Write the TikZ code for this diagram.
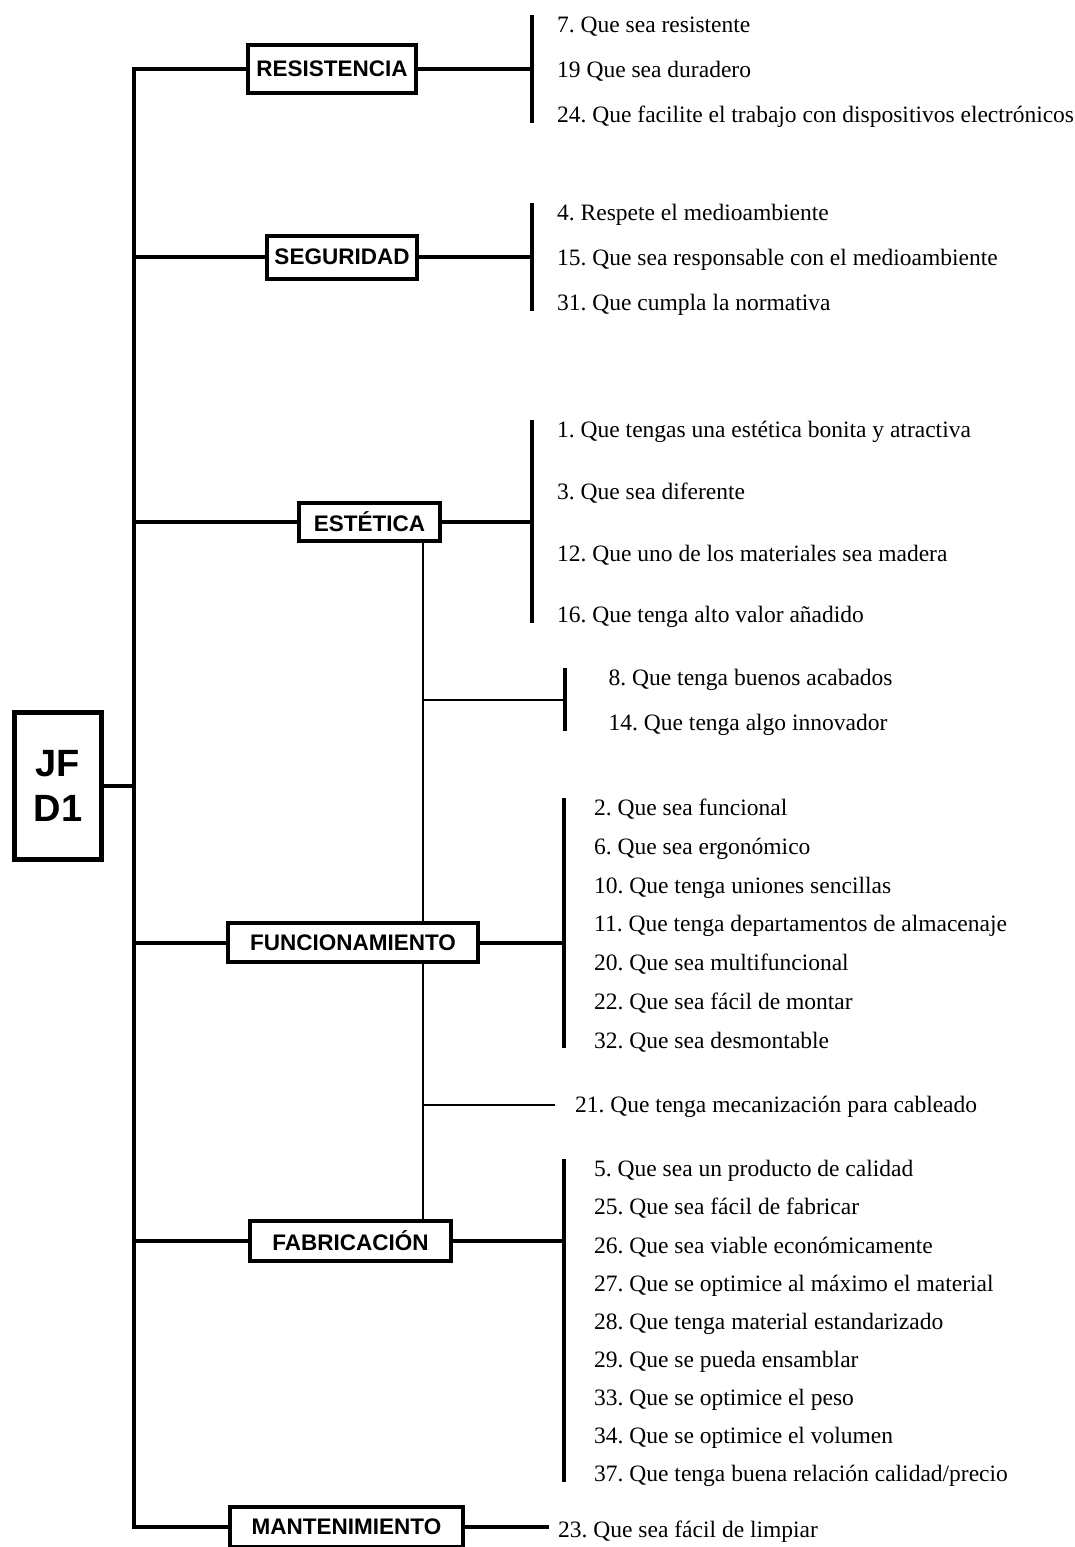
\documentclass[tikz,border=0pt]{standalone}
\usepackage{fontspec}
\setmainfont{Liberation Serif}
\setsansfont{Liberation Sans}
\usetikzlibrary{calc}
\frenchspacing
\tikzstyle{catbox} =[
    draw=black,
    fill=white,
    line width=4pt,
    rectangle,
    inner sep=0pt,
    font=\sffamily\bfseries\fontsize{22.5}{22.5}\selectfont
    ]
\tikzstyle{rootbox} = [
    draw=black,
    line width=5pt,
    rectangle,
    align=center,
    inner sep=0pt,
    minimum width=87pt,
    minimum height=147pt,
    font=\sffamily\bfseries\fontsize{38}{45}\selectfont
    ]
\tikzstyle{reqtext} = [
    anchor=west,
    inner sep=0pt,
    text height=15.6pt,
    text depth=0pt,
    font=\fontsize{23.5}{23.5}\selectfont
    ]
\tikzstyle{link} = [line width=4pt]
\tikzstyle{sublink} = [line width=2pt]

\begin{document}
\begin{tikzpicture}[x=1pt,y=-1pt]
\useasboundingbox (0,0) rectangle (1075,1547);

% root and categories
\node[rootbox] (jf) at (58,786) {JF\\D1};
\node[catbox, minimum width=168pt, minimum height=48pt] (res) at (332,69) {RESISTENCIA};
\node[catbox, minimum width=150pt, minimum height=43pt] (seg) at (342,257) {SEGURIDAD};
\node[catbox, minimum width=141pt, minimum height=38pt] (est) at (369.5,522) {ESTÉTICA};
\node[catbox, minimum width=250pt, minimum height=39pt] (fun) at (353,942.5) {FUNCIONAMIENTO};
\node[catbox, minimum width=201pt, minimum height=40pt] (fab) at (350.5,1241) {FABRICACIÓN};
\node[catbox, minimum width=233pt, minimum height=40pt] (mant) at (346.5,1527) {MANTENIMIENTO};

% requirements
\foreach \t [count=\i] in {7. Que sea resistente, 19 Que sea duradero,
    24. Que facilite el trabajo con dispositivos electrónicos}
  \node[reqtext] (res\i) at (557,{25+45*(\i-1)}) {\t};
\foreach \t [count=\i] in {4. Respete el medioambiente,
    15. Que sea responsable con el medioambiente, 31. Que cumpla la normativa}
  \node[reqtext] (seg\i) at (557,{213+45*(\i-1)}) {\t};
\foreach \t [count=\i] in {1. Que tengas una estética bonita y atractiva,
    3. Que sea diferente, 12. Que uno de los materiales sea madera,
    16. Que tenga alto valor añadido}
  \node[reqtext] (est\i) at (557,{430+61.7*(\i-1)}) {\t};
\foreach \t [count=\i] in {8. Que tenga buenos acabados, 14. Que tenga algo innovador}
  \node[reqtext] (aca\i) at (608.5,{677.5+45*(\i-1)}) {\t};
\foreach \t [count=\i] in {2. Que sea funcional, 6. Que sea ergonómico,
    10. Que tenga uniones sencillas, 11. Que tenga departamentos de almacenaje,
    20. Que sea multifuncional, 22. Que sea fácil de montar, 32. Que sea desmontable}
  \node[reqtext] (fun\i) at (594,{808+38.7*(\i-1)}) {\t};
\node[reqtext] (cab) at (575,1105) {21. Que tenga mecanización para cableado};
\foreach \t [count=\i] in {5. Que sea un producto de calidad, 25. Que sea fácil de fabricar,
    26. Que sea viable económicamente, 27. Que se optimice al máximo el material,
    28. Que tenga material estandarizado, 29. Que se pueda ensamblar,
    33. Que se optimice el peso, 34. Que se optimice el volumen,
    37. Que tenga buena relación calidad/precio}
  \node[reqtext] (fab\i) at (594,{1169+38.1*(\i-1)}) {\t};
\node[reqtext] (limp) at (558,1530) {23. Que sea fácil de limpiar};

% spines
\coordinate (spine) at (134,0);
\coordinate (sub) at (423,0);
\coordinate (resbar) at ([xshift=-25pt]res1.west);
\coordinate (segbar) at ([xshift=-25pt]seg1.west);
\coordinate (estbar) at ([xshift=-25pt]est1.west);
\coordinate (acabar) at ($(aca1.west)!0.5!(aca2.west)+(-44,0)$);
\coordinate (funbar) at ([xshift=-30pt]fun1.west);
\coordinate (fabbar) at ([xshift=-30pt]fab1.west);

\draw[link] (res.west) -- (res.west -| spine) -- (mant.west -| spine) -- (mant.west);
\foreach \n in {seg,est,fun,fab}
  \draw[link] (\n.west) -- (\n.west -| spine);
\draw[link] (jf.east) -- (jf.east -| spine);

% brackets
\draw[link, shorten <=-2pt] (resbar |- res1.north) -- (resbar |- res3.south);
\draw[link] (res.east) -- (res.east -| resbar);
\draw[link, shorten <=-2pt] (segbar |- seg1.north) -- (segbar |- seg3.south);
\draw[link] (seg.east) -- (seg.east -| segbar);
\draw[link, shorten <=-2pt] (estbar |- est1.north) -- (estbar |- est4.south);
\draw[link] (est.east) -- (est.east -| estbar);
\draw[link, shorten <=-2pt] (acabar |- aca1.north) -- (acabar |- aca2.south);
\draw[link, shorten <=-2pt] (funbar |- fun1.north) -- (funbar |- fun7.south);
\draw[link] (fun.east) -- (fun.east -| funbar);
\draw[link, shorten <=-2pt] (fabbar |- fab1.north) -- (fabbar |- fab9.south);
\draw[link] (fab.east) -- (fab.east -| fabbar);
\draw[link] (mant.east) -- ($(mant.east -| limp.west)+(-9,0)$);

% thin branch
\draw[sublink] (est.south -| sub) -- (fun.north -| sub);
\draw[sublink] (fun.south -| sub) -- (fab.north -| sub);
\draw[sublink] (sub |- acabar) -- (acabar);
\draw[sublink] (sub |- cab.west) -- ([xshift=-20pt]cab.west);
\end{tikzpicture}
\end{document}
